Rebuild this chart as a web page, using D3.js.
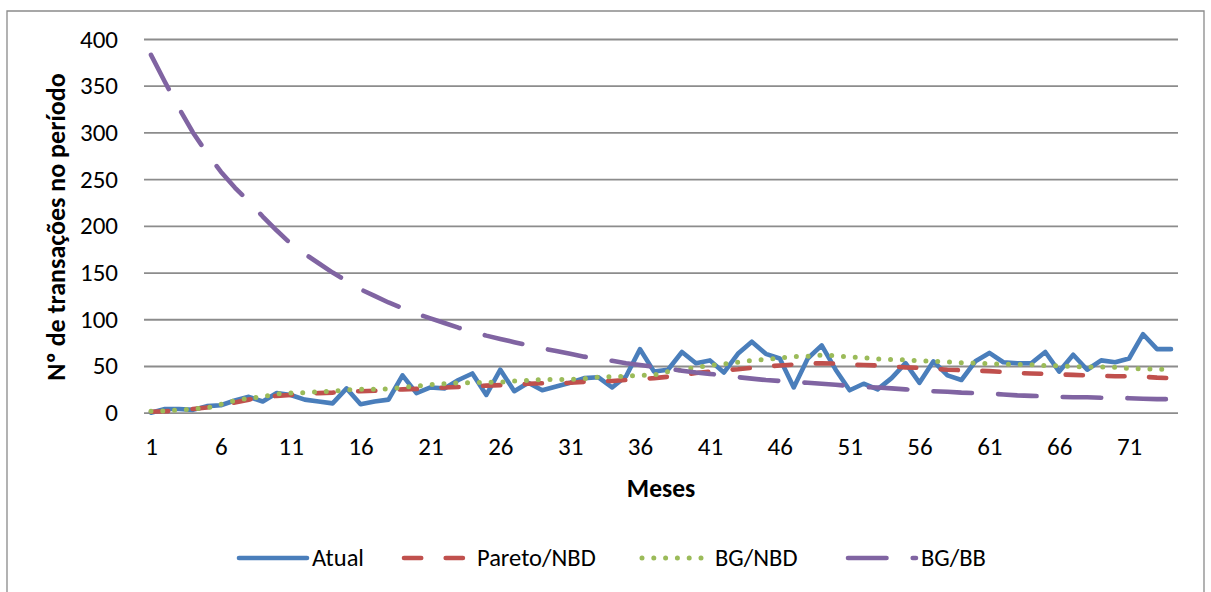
<!DOCTYPE html>
<html>
<head>
<meta charset="utf-8">
<script src="https://cdn.jsdelivr.net/npm/d3@7"></script>
<style>
  html, body { margin: 0; padding: 0; background: #fff; }
  svg { display: block; font-family: Carlito, "Liberation Sans", Arial, sans-serif; }
</style>
</head>
<body>
<svg id="chart" width="1211" height="592"></svg>
<script>
// Monthly transaction counts: observed vs. three model forecasts
const months = d3.range(1, 75);
const xTickLabels = [1, 6, 11, 16, 21, 26, 31, 36, 41, 46, 51, 56, 61, 66, 71];
const yTickLabels = [0, 50, 100, 150, 200, 250, 300, 350, 400];

const atual = [0, 4, 4, 3, 7, 8, 13, 17, 12, 21, 19, 14, 12, 10, 26,
  9, 12, 14, 40, 21, 27, 26, 35, 42, 19, 46, 23, 32, 24, 28,
  32, 37, 38, 27, 39, 68, 44, 46, 65, 53, 56, 43, 63, 76, 63,
  58, 27, 58, 72, 46, 24, 31, 25, 37, 53, 32, 55, 40, 35,
  55, 64, 54, 53, 53, 65, 44, 62, 46, 56, 54, 58, 84, 68, 68];

const paretoNBD = [1, 1.5, 2.5, 4, 5.5, 8, 11, 14, 16.5, 18, 19, 20, 21, 21.5, 22.5,
  23, 23.5, 24, 25, 25.5, 26, 27, 27.5, 28, 29, 29.5, 30, 31, 31.5, 31.5,
  32, 33, 33.5, 34, 35, 36, 37, 38.5, 40.5, 42.5, 44, 45.5, 46.5, 48, 49.5,
  50.5, 51.5, 52.5, 53, 52.5, 51.5, 51, 50.5, 49.5, 48.5, 48, 47, 46, 45.5,
  45, 44.5, 43.5, 42.5, 42, 41.5, 41, 40.5, 40, 39.5, 39, 39, 38.5, 37.5, 37];

const bgNBD = [1.5, 2, 3, 4, 5, 9, 13, 15.5, 17, 20, 21, 21.5, 22.5, 23, 24.5,
  25, 25, 25.5, 27, 28.5, 30, 31, 32, 32, 32.5, 32.5, 34, 34.5, 35.5, 35.5,
  35.7, 36.5, 38, 38.5, 39, 40, 40.5, 44, 46, 48.5, 50.5, 52, 54, 56, 57,
  58.5, 60, 60.5, 61.5, 61, 59.5, 59, 57.5, 57, 56.5, 55.5, 55, 54.5, 53.5,
  53, 52.5, 52, 51.5, 51.5, 50.5, 50, 49.5, 49, 49, 48.5, 47.5, 47, 46.5, 46.5];

const bgBB = [383, 354, 326, 300, 278, 258, 241, 226, 210, 195, 181, 170, 160, 150, 141,
  132, 125, 118, 112, 106, 101, 96, 91, 86.5, 82.5, 79, 75.5, 72, 69, 66,
  63, 60, 58, 55.5, 53, 51, 49, 47, 45, 43, 41.5, 40, 38, 36.5, 35,
  34, 33, 32, 31, 30, 28.5, 27.5, 27, 26, 25, 23.5, 23, 22.5, 21.5,
  21, 20.5, 19.5, 18.5, 18, 17.5, 17, 16.5, 16.5, 16, 16, 15.5, 15, 14.5, 14.5];

const seriesNames = ["Atual", "Pareto/NBD", "BG/NBD", "BG/BB"];
const seriesValues = [atual, paretoNBD, bgNBD, bgBB];
const seriesColors = ["#4A7EBB", "#C0504D", "#9BBB59", "#8064A2"];
const seriesDash = [null, "17.2,24.5", "0,11.8", "38.5,26.2"];
const seriesWidth = [4.6, 4.6, 5, 4.6];

const FONT = "Carlito, 'Liberation Sans', Arial, sans-serif";
const svg = d3.select("#chart");
const plot = { left: 144, right: 1178, top: 39, bottom: 412.7 };

// chart frame
svg.append("path")
  .attr("d", "M7,600V11H1204V600")
  .attr("fill", "none")
  .attr("stroke", "#8a8a8a")
  .attr("stroke-width", 1.3);

const x = d3.scalePoint().domain(months).range([plot.left, plot.right]).padding(0.5);
const y = d3.scaleLinear().domain([0, 400]).range([plot.bottom, plot.top]);

// y axis with horizontal gridlines
const yAxis = svg.append("g")
  .attr("transform", `translate(${plot.left},0)`)
  .call(d3.axisLeft(y).tickValues(yTickLabels).tickSize(-(plot.right - plot.left)).tickPadding(26));
yAxis.select(".domain").remove();
yAxis.selectAll(".tick line").attr("stroke", "#8c8c8c").attr("stroke-width", 1.8);
yAxis.selectAll(".tick text").attr("font-size", 25).attr("fill", "#000")
  .style("font-family", FONT);

// x axis labels (every fifth month)
const xAxis = svg.append("g")
  .attr("transform", `translate(0,${plot.bottom})`)
  .call(d3.axisBottom(x).tickValues(xTickLabels).tickSize(0).tickPadding(27));
xAxis.select(".domain").remove();
xAxis.selectAll(".tick text").attr("font-size", 25).attr("fill", "#000")
  .attr("dy", "0.62em")
  .style("font-family", FONT);

// axis titles
svg.append("text")
  .attr("transform", "translate(65,227) rotate(-90)")
  .attr("text-anchor", "middle")
  .attr("font-size", 26).attr("font-weight", "bold")
  .text("Nº de transações no período");

svg.append("text")
  .attr("x", 661).attr("y", 497)
  .attr("text-anchor", "middle")
  .attr("font-size", 25.5).attr("font-weight", "bold")
  .text("Meses");

// series lines
const line = d3.line()
  .x((d, i) => x(months[i]))
  .y(d => y(d));

seriesValues.forEach((vals, k) => {
  const p = svg.append("path")
    .datum(vals)
    .attr("d", line)
    .attr("fill", "none")
    .attr("stroke", seriesColors[k])
    .attr("stroke-width", seriesWidth[k])
    .attr("stroke-linejoin", "round")
    .attr("stroke-linecap", "round");
  if (seriesDash[k]) p.attr("stroke-dasharray", seriesDash[k]);
});

// legend
const legendX = [239, 404, 642, 848];
const legendY = 558;
const legend = svg.append("g");
seriesNames.forEach((name, k) => {
  const g = legend.append("g").attr("transform", `translate(${legendX[k]},${legendY})`);
  const s = g.append("path")
    .attr("d", "M0,0H68")
    .attr("stroke", seriesColors[k])
    .attr("stroke-width", seriesWidth[k])
    .attr("stroke-linecap", "round")
    .attr("fill", "none");
  if (seriesDash[k]) s.attr("stroke-dasharray", seriesDash[k]);
  g.append("text")
    .attr("x", 73).attr("y", 0).attr("dy", "0.33em")
    .attr("font-size", 24.5)
    .text(name);
});
</script>
</body>
</html>
